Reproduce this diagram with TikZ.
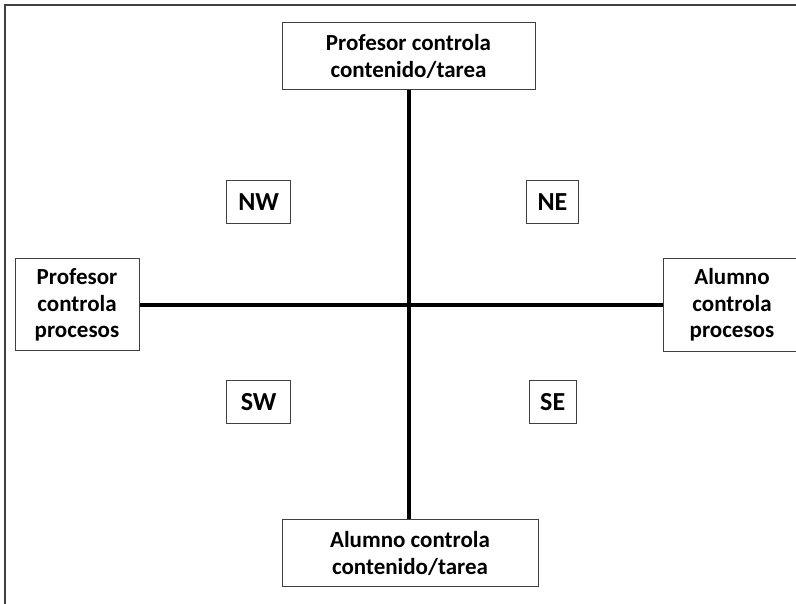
\documentclass[tikz,border=0pt]{standalone}
\usepackage{fontspec}
\setmainfont{Carlito}
\usepackage{tikz}

\begin{document}
\begin{tikzpicture}[x=1pt,y=-1pt,
		box/.style={draw=black!75,line width=1pt,align=center,inner sep=2pt,
			font=\fontsize{23}{26.5}\selectfont\bfseries},
		quad/.style={box,font=\fontsize{26}{30}\selectfont\bfseries,minimum height=42.6pt},
		axis/.style={line width=4pt,black},
		frame/.style={line width=2pt,black!75}]
		\useasboundingbox (0,0) rectangle (796,604);
		\draw[frame] (5,610) -- (5,5) -- (800,5);
		
		\path	(408.5,56.3) node[box,minimum width=253pt,minimum height=67pt](top) {Profesor controla\\contenido/tarea}
			(410,553.3) node[box,minimum width=256pt,minimum height=67pt](bot) {Alumno controla\\contenido/tarea}
			(77,305) node[box,minimum width=124pt,minimum height=92pt](lft) {Profesor\\controla\\procesos}
			(732,305) node[box,minimum width=138pt,minimum height=93pt](rgt) {Alumno\\controla\\procesos};
		\path	(258.7,202) node[quad,minimum width=64pt](nw) {NW}
			(552.5,202) node[quad,minimum width=51.6pt](ne) {NE}
			(258.7,402) node[quad,minimum width=64pt](sw) {SW}
			(552.7,402) node[quad,minimum width=46.7pt](se) {SE};
		
		\draw[axis] (top.south) -- (top.south |- bot.north);
		\draw[axis] (lft.east) -- (rgt.west);
	\end{tikzpicture}
\end{document}
